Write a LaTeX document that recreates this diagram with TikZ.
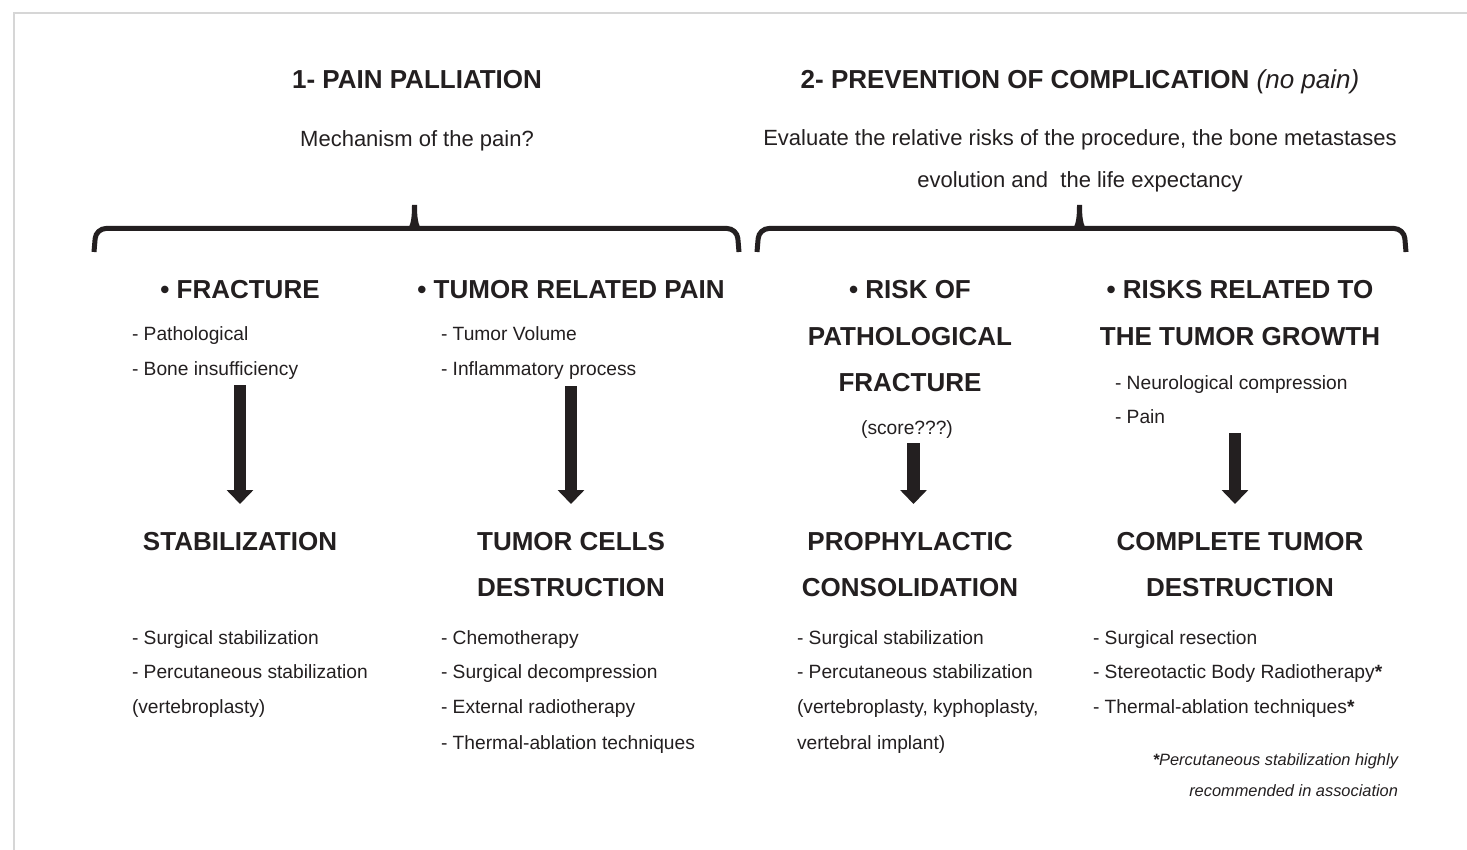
\documentclass[tikz,border=0pt]{standalone}
\usepackage{fontspec}
\setmainfont{Liberation Sans}
\usetikzlibrary{arrows.meta}
\definecolor{ink}{RGB}{35,31,32}
\definecolor{framegray}{RGB}{214,214,214}
\begin{document}
\begin{tikzpicture}[x=0.5pt,y=-0.5pt,
  every node/.style={inner sep=0pt, outer sep=0pt, text=ink},
  head/.style={font=\fontsize{13}{15}\selectfont\bfseries, anchor=base},
  sub/.style={font=\fontsize{11}{13}\selectfont, anchor=base},
  lst/.style={font=\fontsize{9.6}{12}\selectfont, anchor=base west},
  note/.style={font=\fontsize{8.2}{10}\selectfont\itshape, anchor=base east},
  bigarrow/.style={draw=ink, line width=6.25pt, -{Triangle[width=13pt,length=7pt]}},
  braceline/.style={draw=ink, line width=2.5pt, rounded corners=5pt},
  framel/.style={draw=framegray, line width=1pt},
]
\useasboundingbox (0,0) rectangle (1467,850);
\fill[white] (0,0) rectangle (1467,850);
% frame
\draw[framel] (1467,13.5) -- (13.5,13.5) -- (13.5,850);

% titles
\node[head] (t1) at (417,89) {1- PAIN PALLIATION};
\node[head] (t2) at (1080,89) {2- PREVENTION OF COMPLICATION {\mdseries\itshape (no pain)}};
\node[sub] (m1) at (417,147) {Mechanism of the pain?};
\node[sub] (e1) at (1080,146) {Evaluate the relative risks of the procedure, the bone metastases};
\node[sub] (e2) at (1080,188) {evolution and\ \ the life expectancy};

% braces
\draw[braceline] (94,252) -- (96,228.5) -- (737,228.5) -- (739,252);
\fill[ink] (406,230) .. controls (411.5,227) and (412,215) .. (412,205) -- (417,205) .. controls (417,215) and (417.5,227) .. (423,230) -- cycle;
\draw[braceline] (757,252) -- (759,228.5) -- (1404,228.5) -- (1406,252);
\fill[ink] (1071,230) .. controls (1076.5,227) and (1077,215) .. (1077,205) -- (1082,205) .. controls (1082,215) and (1082.5,227) .. (1088,230) -- cycle;

% column 1
\node[head] (c1h) at (240,299) {\textbullet\ FRACTURE};
\node[lst] (c1a) at (132,340) {- Pathological};
\node[lst] (c1b) at (132,375) {- Bone insufficiency};
\coordinate (a1s) at (240,385);
\coordinate (a1e) at (240,504);
\draw[bigarrow] (a1s) -- (a1e);
\node[head] (c1r) at (240,550) {STABILIZATION};
\node[lst] (c1c) at (132,644) {- Surgical stabilization};
\node[lst] (c1d) at (132,678) {- Percutaneous stabilization};
\node[lst] (c1e) at (132,713) {(vertebroplasty)};

% column 2
\node[head] (c2h) at (571,299) {\textbullet\ TUMOR RELATED PAIN};
\node[lst] (c2a) at (441,340) {- Tumor Volume};
\node[lst] (c2b) at (441,375) {- Inflammatory process};
\coordinate (a2s) at (571,386);
\coordinate (a2e) at (571,504);
\draw[bigarrow] (a2s) -- (a2e);
\node[head] (c2r1) at (571,550) {TUMOR CELLS};
\node[head] (c2r2) at (571,596) {DESTRUCTION};
\node[lst] (c2c) at (441,644) {- Chemotherapy};
\node[lst] (c2d) at (441,678) {- Surgical decompression};
\node[lst] (c2e) at (441,713) {- External radiotherapy};
\node[lst] (c2f) at (441,749) {- Thermal-ablation techniques};

% column 3
\node[head] (c3h1) at (910,299) {\textbullet\ RISK OF};
\node[head] (c3h2) at (910,345) {PATHOLOGICAL};
\node[head] (c3h3) at (910,391) {FRACTURE};
\node[lst, anchor=base] (c3s) at (907,434) {(score???)};
\coordinate (a3s) at (913.5,443);
\coordinate (a3e) at (913.5,504);
\draw[bigarrow] (a3s) -- (a3e);
\node[head] (c3r1) at (910,550) {PROPHYLACTIC};
\node[head] (c3r2) at (910,596) {CONSOLIDATION};
\node[lst] (c3c) at (797,644) {- Surgical stabilization};
\node[lst] (c3d) at (797,678) {- Percutaneous stabilization};
\node[lst] (c3e) at (797,713) {(vertebroplasty, kyphoplasty,};
\node[lst] (c3f) at (797,749) {vertebral implant)};

% column 4
\node[head] (c4h1) at (1240,299) {\textbullet\ RISKS RELATED TO};
\node[head] (c4h2) at (1240,345) {THE TUMOR GROWTH};
\node[lst] (c4a) at (1115,389) {- Neurological compression};
\node[lst] (c4b) at (1115,423) {- Pain};
\coordinate (a4s) at (1235,433);
\coordinate (a4e) at (1235,504);
\draw[bigarrow] (a4s) -- (a4e);
\node[head] (c4r1) at (1240,550) {COMPLETE TUMOR};
\node[head] (c4r2) at (1240,596) {DESTRUCTION};
\node[lst] (c4c) at (1093,644) {- Surgical resection};
\node[lst] (c4d) at (1093,678) {- Stereotactic Body Radiotherapy{\bfseries*}};
\node[lst] (c4e) at (1093,713) {- Thermal-ablation techniques{\bfseries*}};
\node[note] (n1) at (1398,765) {{\bfseries*}Percutaneous stabilization highly};
\node[note] (n2) at (1398,796) {recommended in association};
\end{tikzpicture}
\end{document}
